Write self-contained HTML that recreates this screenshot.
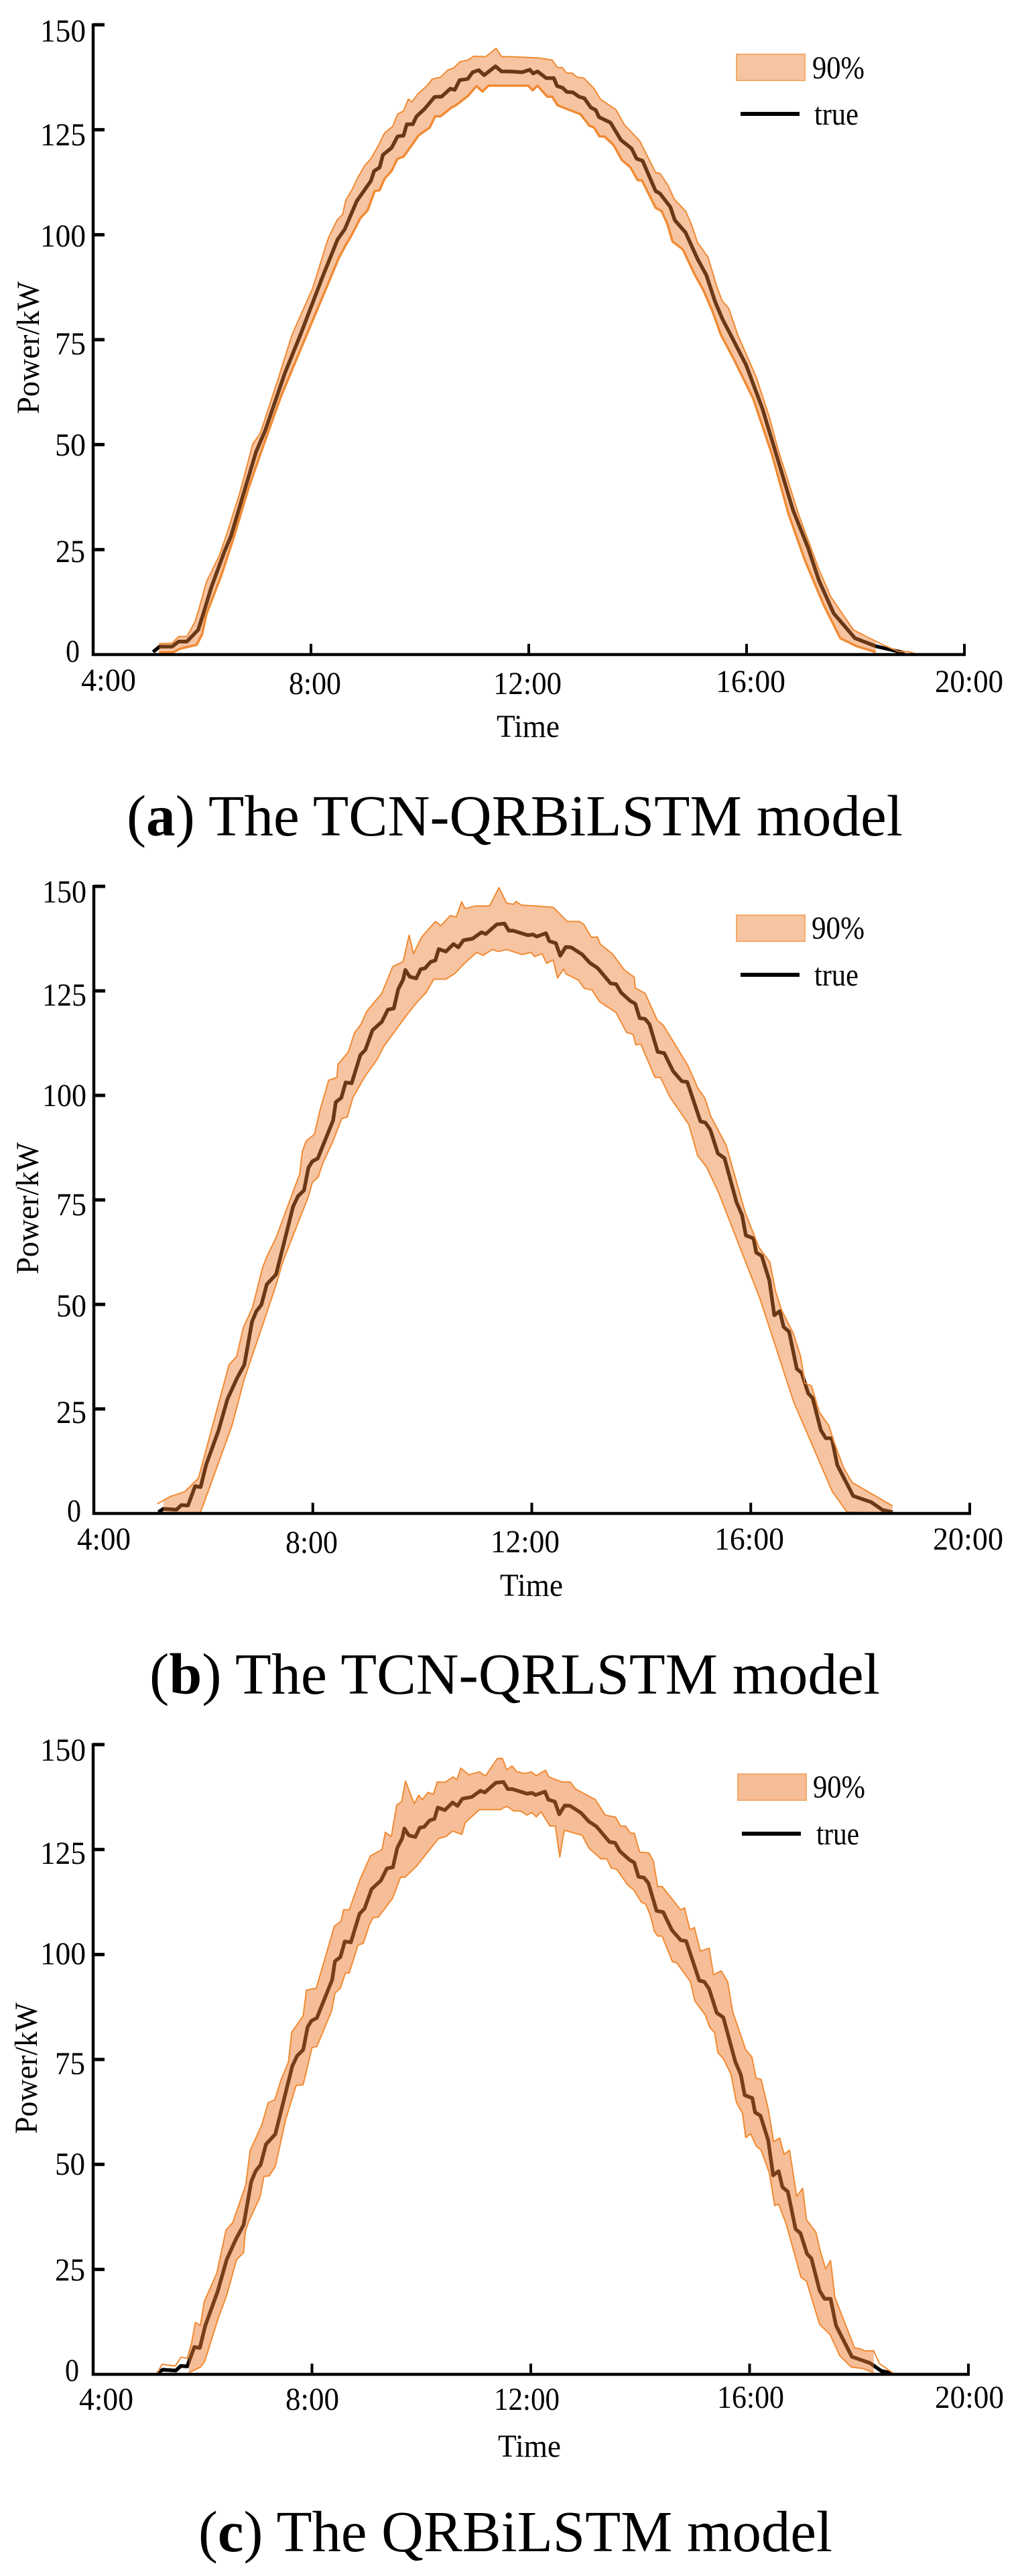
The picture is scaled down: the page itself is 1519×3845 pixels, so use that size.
<!DOCTYPE html>
<html lang="en">
<head>
<meta charset="utf-8">
<title>Prediction intervals of three models</title>
<style>
html,body{margin:0;padding:0;background:#fff;}
svg{display:block;}
text{font-family:"Liberation Serif",serif;fill:#000;font-size:48px;}
text.cap{font-size:87px;}
</style>
</head>
<body>
<svg id="figure" xmlns="http://www.w3.org/2000/svg" width="1519" height="3845" viewBox="0 0 1519 3845">
<rect x="0" y="0" width="1519" height="3845" fill="#fff"/>
<g id="chartA"></g>
<g id="chartB"></g>
<g id="chartC"></g>

<!-- Chart A text -->
<g>
<text x="60" y="62" textLength="68" lengthAdjust="spacingAndGlyphs">150</text>
<text x="60" y="217" textLength="68" lengthAdjust="spacingAndGlyphs">125</text>
<text x="60" y="368" textLength="68" lengthAdjust="spacingAndGlyphs">100</text>
<text x="82" y="529" textLength="46" lengthAdjust="spacingAndGlyphs">75</text>
<text x="82" y="680" textLength="46" lengthAdjust="spacingAndGlyphs">50</text>
<text x="83" y="839" textLength="44" lengthAdjust="spacingAndGlyphs">25</text>
<text x="98" y="988" textLength="21" lengthAdjust="spacingAndGlyphs">0</text>
<text x="121" y="1031" textLength="82" lengthAdjust="spacingAndGlyphs">4:00</text>
<text x="431" y="1036" textLength="78" lengthAdjust="spacingAndGlyphs">8:00</text>
<text x="736" y="1036" textLength="102" lengthAdjust="spacingAndGlyphs">12:00</text>
<text x="1068" y="1033" textLength="104" lengthAdjust="spacingAndGlyphs">16:00</text>
<text x="1395" y="1033" textLength="102" lengthAdjust="spacingAndGlyphs">20:00</text>
<text x="741" y="1100" textLength="94" lengthAdjust="spacingAndGlyphs">Time</text>
<text x="58" y="618" transform="rotate(-90 58 618)" textLength="198" lengthAdjust="spacingAndGlyphs">Power/kW</text>
<text x="1212" y="117" textLength="78" lengthAdjust="spacingAndGlyphs">90%</text>
<text x="1215" y="186" textLength="66" lengthAdjust="spacingAndGlyphs">true</text>
<text class="cap" x="189" y="1247" textLength="1158" lengthAdjust="spacingAndGlyphs">(<tspan font-weight="bold">a</tspan>) The TCN-QRBiLSTM model</text>
</g>

<!-- Chart B text -->
<g>
<text x="63" y="1347" textLength="66" lengthAdjust="spacingAndGlyphs">150</text>
<text x="63" y="1501" textLength="66" lengthAdjust="spacingAndGlyphs">125</text>
<text x="63" y="1651" textLength="66" lengthAdjust="spacingAndGlyphs">100</text>
<text x="84" y="1814" textLength="45" lengthAdjust="spacingAndGlyphs">75</text>
<text x="84" y="1965" textLength="45" lengthAdjust="spacingAndGlyphs">50</text>
<text x="84" y="2124" textLength="45" lengthAdjust="spacingAndGlyphs">25</text>
<text x="100" y="2271" textLength="21" lengthAdjust="spacingAndGlyphs">0</text>
<text x="115" y="2313" textLength="80" lengthAdjust="spacingAndGlyphs">4:00</text>
<text x="426" y="2318" textLength="78" lengthAdjust="spacingAndGlyphs">8:00</text>
<text x="732" y="2317" textLength="103" lengthAdjust="spacingAndGlyphs">12:00</text>
<text x="1066" y="2313" textLength="104" lengthAdjust="spacingAndGlyphs">16:00</text>
<text x="1392" y="2313" textLength="105" lengthAdjust="spacingAndGlyphs">20:00</text>
<text x="746" y="2382" textLength="94" lengthAdjust="spacingAndGlyphs">Time</text>
<text x="57" y="1902" transform="rotate(-90 57 1902)" textLength="197" lengthAdjust="spacingAndGlyphs">Power/kW</text>
<text x="1211" y="1401" textLength="79" lengthAdjust="spacingAndGlyphs">90%</text>
<text x="1215" y="1471" textLength="66" lengthAdjust="spacingAndGlyphs">true</text>
<text class="cap" x="223" y="2528" textLength="1090" lengthAdjust="spacingAndGlyphs">(<tspan font-weight="bold">b</tspan>) The TCN-QRLSTM model</text>
</g>

<!-- Chart C text -->
<g>
<text x="60" y="2628" textLength="68" lengthAdjust="spacingAndGlyphs">150</text>
<text x="60" y="2782" textLength="68" lengthAdjust="spacingAndGlyphs">125</text>
<text x="60" y="2932" textLength="68" lengthAdjust="spacingAndGlyphs">100</text>
<text x="82" y="3096" textLength="45" lengthAdjust="spacingAndGlyphs">75</text>
<text x="82" y="3246" textLength="45" lengthAdjust="spacingAndGlyphs">50</text>
<text x="82" y="3404" textLength="45" lengthAdjust="spacingAndGlyphs">25</text>
<text x="97" y="3554" textLength="21" lengthAdjust="spacingAndGlyphs">0</text>
<text x="118" y="3597" textLength="81" lengthAdjust="spacingAndGlyphs">4:00</text>
<text x="426" y="3597" textLength="80" lengthAdjust="spacingAndGlyphs">8:00</text>
<text x="737" y="3597" textLength="98" lengthAdjust="spacingAndGlyphs">12:00</text>
<text x="1070" y="3594" textLength="100" lengthAdjust="spacingAndGlyphs">16:00</text>
<text x="1395" y="3594" textLength="103" lengthAdjust="spacingAndGlyphs">20:00</text>
<text x="743" y="3667" textLength="94" lengthAdjust="spacingAndGlyphs">Time</text>
<text x="55" y="3185" transform="rotate(-90 55 3185)" textLength="196" lengthAdjust="spacingAndGlyphs">Power/kW</text>
<text x="1213" y="2683" textLength="78" lengthAdjust="spacingAndGlyphs">90%</text>
<text x="1218" y="2753" textLength="64" lengthAdjust="spacingAndGlyphs">true</text>
<text class="cap" x="296" y="3808" textLength="946" lengthAdjust="spacingAndGlyphs">(<tspan font-weight="bold">c</tspan>) The QRBiLSTM model</text>
</g>
</svg>

<script>
// Axis values
const xTickHours = [4, 8, 12, 16, 20];
const yTickKw = [0, 25, 50, 75, 100, 125, 150];

// Chart A: true power
const trueHoursA = [
5.10,5.22,5.45,5.57,5.72,5.93,6.02,6.17,6.41,6.53,
6.75,6.99,7.16,7.52,7.81,8.22,8.49,8.62,8.84,9.10,
9.16,9.26,9.32,9.48,9.59,9.70,9.76,9.87,9.94,10.09,
10.27,10.40,10.56,10.64,10.73,10.88,10.97,11.08,11.18,11.39,
11.50,11.63,11.88,12.02,12.08,12.16,12.32,12.46,12.52,12.62,
12.70,12.81,12.92,13.02,13.14,13.23,13.29,13.50,13.69,13.89,
13.98,14.09,14.33,14.41,14.60,14.68,14.88,15.10,15.26,15.42,
15.56,15.71,15.99,16.29,16.58,16.85,17.13,17.33,17.60,17.99,
18.37,18.90];
const trueKwA = [
0.6,1.9,1.9,3.1,3.1,5.9,9.6,16,24.5,28.2,
37.8,48.2,53.4,67,76.3,90.2,98.9,101.3,108,112.8,
115.2,116,119,120.7,123.4,123.6,126.3,126.3,128.2,130,
132.8,132.9,134.8,134.5,136.8,137.1,138.7,139.2,138,140.1,
138.9,138.9,138.7,139.3,138.4,138.9,137.3,137.3,135.4,135,
134,133.9,132.9,132.5,130.3,129.7,128,126.7,122.6,120.5,
118.1,117.6,110.4,109.8,106.6,103.5,100.5,94.2,90.4,84.1,
79.8,76.1,69,58.6,46.2,34.5,25.4,17.6,9.8,3.9,
2,0.4];

// Chart A: upper bound
const upperHoursA = [
5.21,5.45,5.57,5.72,5.87,5.94,6.08,6.32,6.44,6.69,
6.93,7.07,7.40,7.65,7.83,8.03,8.16,8.27,8.33,8.48,
8.58,8.64,8.75,8.86,8.99,9.10,9.24,9.35,9.50,9.59,
9.70,9.79,9.85,9.96,10.14,10.23,10.38,10.51,10.62,10.74,
10.88,10.99,11.21,11.40,11.50,11.65,12.18,12.43,12.53,12.62,
12.69,12.80,12.89,13.01,13.20,13.32,13.60,13.75,14.04,14.33,
14.41,14.56,14.67,14.88,14.99,15.10,15.29,15.45,15.55,15.67,
15.84,16.18,16.42,16.58,16.96,17.33,17.55,17.96,18.26,18.56,
18.80,18.98,19.12];
const upperKwA = [
2.6,2.7,4.3,4.3,7.8,10.7,17.3,23.7,28.2,38.4,
50.1,52.7,65.8,76.1,81.4,87.2,92.6,97.3,99.5,103.5,
104.8,108.2,110.6,113.6,116.5,118.1,121.3,124.2,125.8,128.7,
129.5,132.3,131.6,133.5,135.6,137.1,137.5,139.2,139.7,141.2,
141.6,142.5,142.4,144.4,142.4,142.4,142.1,141.6,139.8,139.8,
138.5,138.5,137.5,137.3,134.8,132.2,129.8,126.3,122.3,114.8,
114.6,111.7,108.5,105.6,102.4,98.1,94.7,87.8,84.3,82.5,
76.1,66,56.5,48.8,33.2,20.2,13.7,5.9,3.9,2,
0.7,0.7,0.1];

// Chart A: lower bound
const lowerHoursA = [
5.21,5.48,5.60,5.90,6.00,6.08,6.35,6.59,6.85,7.05,
7.45,7.92,8.09,8.33,8.51,8.64,8.73,8.91,9.04,9.17,
9.26,9.35,9.48,9.59,9.70,9.85,9.98,10.18,10.28,10.38,
10.58,10.66,10.88,11.04,11.15,11.26,11.99,12.07,12.16,12.34,
12.43,12.53,12.95,13.11,13.20,13.30,13.39,13.56,13.71,13.87,
14.00,14.08,14.33,14.44,14.55,14.64,14.83,15.04,15.21,15.37,
15.53,15.76,16.12,16.47,16.77,17.07,17.42,17.72,18.02,18.37];
const lowerKwA = [
0.5,0.6,1.4,2.3,4.8,9.6,18.7,28.2,39.5,47,
61.5,76.1,81.4,88.8,94.4,97.6,99.5,104,105.8,110.4,
110.6,113.3,115.2,118.1,118.6,121.3,123.7,125.5,128.2,128.2,
130.3,130.8,133,135.4,134.1,135.5,135.5,134.4,135.5,132.9,
132.9,130.8,128.7,126,125.5,123.4,123.4,121.3,117.8,116,
113,112.9,106.4,105.6,102.4,98.4,96.5,90.7,86.7,81.9,
76.1,70.5,61,47.5,33.5,22.5,11.7,3.9,2,0.6];

// Charts B and C: true power
const trueHoursBC = [
5.18,5.27,5.51,5.60,5.72,5.85,5.95,6.05,6.28,6.44,
6.61,6.75,6.89,6.97,7.06,7.16,7.33,7.64,7.73,7.84,
7.92,7.99,8.09,8.37,8.42,8.52,8.60,8.71,8.87,8.96,
9.09,9.26,9.37,9.48,9.56,9.65,9.69,9.77,9.89,9.97,
10.05,10.15,10.24,10.30,10.43,10.57,10.66,10.75,10.92,11.08,
11.16,11.36,11.50,11.58,11.66,11.93,12.02,12.09,12.26,12.32,
12.44,12.52,12.62,12.72,12.92,13.06,13.20,13.44,13.54,13.63,
13.80,13.89,13.97,14.07,14.15,14.30,14.42,14.58,14.74,14.84,
15.08,15.17,15.26,15.40,15.52,15.74,15.84,15.91,16.05,16.10,
16.20,16.34,16.43,16.53,16.60,16.70,16.84,16.93,17.05,17.13,
17.28,17.37,17.48,17.58,17.87,18.20,18.41,18.59];
const trueKwBC = [
0.3,1.1,0.9,2.0,1.9,6.5,6.3,11.6,19.9,27.3,
32.2,35.6,45.9,48.4,49.9,54.8,57.2,73.4,75.9,77.3,
82.7,84.2,84.9,94.0,98.4,99.4,103.1,102.9,109.7,110.9,
115.6,117.6,120.5,120.8,125.4,127.7,130.0,128.4,128.0,130.2,
130.4,131.9,132.3,135.0,134.4,136.2,135.4,137.1,137.5,139.0,
138.6,140.9,141.1,139.4,139.4,138.3,138.5,138.0,138.8,136.9,
136.4,133.4,135.5,135.4,133.7,131.7,130.5,126.8,126.6,124.6,
122.6,121.9,118.5,118.3,117.0,110.4,110.1,105.8,103.4,103.2,
93.8,93.5,91.8,86.1,85.0,74.4,71.4,66.5,65.8,62.4,
61.6,55.7,47.4,48.4,44.6,43.5,34.6,33.6,28.7,27.6,
19.9,18.0,18.0,11.6,4.2,2.7,0.8,0.3];

// Chart B: upper bound
const upperHoursB = [
5.16,5.39,5.66,5.91,6.47,6.61,6.73,6.90,7.08,7.15,
7.33,7.76,7.81,7.88,8.03,8.13,8.29,8.44,8.46,8.65,
8.76,8.88,8.99,9.26,9.46,9.65,9.76,9.84,9.99,10.24,
10.34,10.51,10.62,10.72,10.78,10.97,11.23,11.40,11.54,11.67,
11.71,11.81,12.08,12.39,12.65,12.87,12.95,13.09,13.20,13.25,
13.47,13.69,13.87,13.89,14.07,14.29,14.40,14.85,15.03,15.16,
15.27,15.55,15.90,16.15,16.35,16.45,16.56,16.78,16.91,16.99,
17.11,17.25,17.43,17.51,17.69,17.85,18.59];
const upperKwB = [
2.3,4.0,5.2,8.4,35.6,37.6,44.4,49.3,58.7,61.1,
66.0,81.2,86.6,89.1,90.7,96.4,103.6,104.3,107.4,110.4,
114.9,117.0,120.2,124.4,130.8,132.0,138.3,133.9,137.9,141.6,
140.6,143.0,142.7,146.3,144.7,145.3,145.3,149.7,146.0,145.7,
146.4,145.5,145.3,145.0,141.6,141.6,140.9,137.8,137.9,136.2,
133.9,130.0,128.3,125.7,124.4,118.0,116.8,107.2,101.8,99.4,
95.0,88.1,71.9,63.6,60.1,53.3,48.7,43.0,37.6,31.2,
30.5,24.3,20.9,17.5,11.1,7.4,1.8];

// Chart B: lower bound
const lowerHoursB = [
5.27,5.94,6.00,6.52,6.75,7.08,7.33,7.45,7.73,7.92,
7.99,8.10,8.18,8.37,8.53,8.63,8.73,8.95,9.18,9.30,
9.75,9.91,10.07,10.21,10.43,10.59,10.78,10.99,11.11,11.28,
11.39,11.54,11.82,11.99,12.05,12.19,12.27,12.39,12.47,12.58,
12.63,12.85,12.96,13.10,13.24,13.54,13.73,13.85,13.90,13.99,
14.25,14.35,14.52,14.87,15.03,15.19,15.41,16.17,16.39,16.78,
17.49,17.76,18.59];
const lowerKwB = [
0.1,0.1,2.1,20.9,32.2,44.9,54.7,60.1,69.5,75.8,
79.1,80.5,83.7,89.1,94.5,94.8,99.4,104.5,108.7,111.8,
119.8,122.4,124.6,127.8,127.8,129.1,131.7,134.2,133.5,134.9,
134.4,134.9,133.7,134.2,133.2,133.9,131.6,132.4,128.1,130.2,
129.0,127.6,125.6,125.2,122.4,119.8,115.1,114.6,112.1,112.3,
104.3,104.3,99.7,93.0,85.6,82.9,76.8,51.3,42.5,26.8,
5.2,0.3,0.1];

// Chart C: upper bound
const upperHoursC = [
5.17,5.26,5.50,5.61,5.72,5.80,5.87,5.96,6.03,6.26,
6.43,6.55,6.79,6.87,7.08,7.20,7.32,7.43,7.57,7.63,
7.84,7.90,8.08,8.41,8.53,8.58,8.68,8.88,9.07,9.28,
9.34,9.45,9.55,9.64,9.71,9.87,9.95,10.02,10.12,10.22,
10.29,10.43,10.58,10.65,10.72,10.87,11.06,11.17,11.39,11.48,
11.56,11.66,11.74,11.88,12.01,12.10,12.27,12.33,12.57,12.72,
12.82,13.18,13.36,13.55,13.64,13.73,13.82,13.89,13.99,14.16,
14.24,14.32,14.40,14.74,14.81,14.91,14.99,15.10,15.26,15.34,
15.48,15.60,15.69,15.93,16.04,16.12,16.21,16.34,16.44,16.55,
16.63,16.73,16.86,16.97,17.04,17.21,17.30,17.39,17.48,17.56,
17.92,18.02,18.10,18.27,18.37,18.63];
const upperKwC = [
0.2,2.4,2.0,4.1,3.8,7.5,12.4,11.6,17.3,24.1,
34.4,36.1,45.1,53.4,59.3,64.7,65.4,70.0,74.4,81.5,
85.4,91.5,92.0,106.8,107.9,110.7,110.6,117.9,123.5,125.0,
129.1,128.1,135.6,136.4,141.3,135.9,137.9,136.9,138.6,138.2,
141.1,141.0,142.3,141.6,144.4,142.8,143.5,142.5,146.7,146.7,
144.0,144.9,143.6,143.1,143.5,142.6,143.9,142.3,141.1,141.1,
139.4,136.9,133.2,132.7,130.6,130.6,128.9,128.9,124.4,124.2,
122.3,116.1,116.2,110.6,111.1,105.9,106.4,100.8,101.5,95.2,
96.1,93.5,86.4,77.3,75.6,70.5,70.3,63.2,55.4,56.3,
52.4,53.4,42.4,44.3,36.8,33.9,29.0,25.1,27.1,18.3,
6.3,6.1,5.6,5.6,2.6,0.2];

// Chart C: lower bound
const lowerHoursC = [
5.75,5.96,6.04,6.30,6.37,6.44,6.62,6.75,6.78,6.84,
7.05,7.12,7.22,7.33,7.52,7.71,7.84,8.00,8.09,8.36,
8.42,8.52,8.61,8.68,8.84,8.94,9.05,9.12,9.21,9.47,
9.62,9.70,9.91,10.31,10.45,10.57,10.74,10.80,11.06,11.44,
11.56,11.69,11.81,11.93,12.02,12.10,12.19,12.35,12.45,12.53,
12.61,12.94,13.06,13.28,13.39,13.47,13.57,13.77,13.88,14.02,
14.10,14.18,14.26,14.32,14.40,14.59,14.67,14.92,15.00,15.19,
15.27,15.36,15.42,15.52,15.66,15.76,15.87,15.93,16.02,16.12,
16.21,16.36,16.46,16.53,16.67,16.94,17.04,17.28,17.47,17.65,
17.86,18.07,18.27];
const lowerKwC = [
0.4,1.7,3.1,13.9,16.3,18.8,27.3,29.0,33.9,36.3,
42.2,47.1,47.3,49.5,60.7,68.8,69.0,77.8,78.1,86.6,
90.8,92.0,95.6,95.6,102.2,102.7,107.1,108.8,108.9,113.3,
118.4,118.4,121.0,127.6,128.1,129.4,128.6,131.4,134.5,134.5,
135.3,134.2,134.2,133.2,133.8,132.8,134.0,130.6,130.6,123.2,
129.6,128.4,125.4,122.8,122.8,120.6,120.3,116.6,115.4,112.5,
112.0,109.6,105.5,104.4,104.4,98.3,98.0,93.5,88.9,85.6,
82.7,81.4,76.6,75.2,71.5,64.7,62.2,56.4,57.3,54.4,
53.4,48.0,40.2,40.5,35.8,23.1,22.2,11.9,9.5,4.4,
1.7,1.4,0.4];

const SVG_NS = 'http://www.w3.org/2000/svg';

function make(parent, tag, attrs) {
  const el = document.createElementNS(SVG_NS, tag);
  for (const k in attrs) el.setAttribute(k, attrs[k]);
  parent.appendChild(el);
  return el;
}

function pointsOf(hours, kw, sx, sy) {
  const n = Math.min(hours.length, kw.length);
  const out = [];
  for (let i = 0; i < n; i++) out.push(sx(hours[i]).toFixed(1) + ',' + sy(kw[i]).toFixed(1));
  return out;
}

function interp(hours, kw, h) {
  if (h <= hours[0]) return kw[0];
  for (let i = 1; i < hours.length; i++) {
    if (h <= hours[i]) {
      const t = (h - hours[i - 1]) / (hours[i] - hours[i - 1]);
      return kw[i - 1] + t * (kw[i] - kw[i - 1]);
    }
  }
  return kw[kw.length - 1];
}

function drawChart(cfg) {
  const g = document.getElementById(cfg.id);
  const sx = h => cfg.left + (h - 4) * (cfg.right - cfg.left) / 16;
  const sy = k => cfg.base - k * (cfg.base - cfg.top) / 150;

  // true line under the translucent band
  const trueLine = make(g, 'polyline', {points: pointsOf(cfg.trueH, cfg.trueK, sx, sy).join(' '), fill: 'none', stroke: '#000', 'stroke-width': 5.5, 'stroke-linejoin': 'round'});
  
  

  // band: spans only the lower-bound domain
  const loStart = cfg.lowH[0];
  const loEnd = cfg.lowH[cfg.lowH.length - 1];
  const bandH = [loStart];
  const bandK = [interp(cfg.upH, cfg.upK, loStart)];
  cfg.upH.forEach((h, i) => {
    if (h > loStart && h < loEnd) { bandH.push(h); bandK.push(cfg.upK[i]); }
  });
  bandH.push(loEnd);
  bandK.push(interp(cfg.upH, cfg.upK, loEnd));
  const bandPts = pointsOf(bandH, bandK, sx, sy).concat(pointsOf(cfg.lowH, cfg.lowK, sx, sy).reverse());
  const band = make(g, 'polygon', {points: bandPts.join(' '), fill: '#ED7D31', 'fill-opacity': cfg.alpha, stroke: 'none'});
  
  

  const upLine = make(g, 'polyline', {points: pointsOf(cfg.upH, cfg.upK, sx, sy).join(' '), fill: 'none', stroke: '#F08A33', 'stroke-width': cfg.upW, 'stroke-linejoin': 'round'});
  
  

  const lowLine = make(g, 'polyline', {points: pointsOf(cfg.lowH, cfg.lowK, sx, sy).join(' '), fill: 'none', stroke: '#F08A33', 'stroke-width': cfg.lowW, 'stroke-linejoin': 'round'});
  
  

  // axes
  const yAxis = make(g, 'line', {x1: cfg.left, x2: cfg.left, y1: cfg.top - 2, y2: cfg.base + 2, stroke: '#000', 'stroke-width': 4.5});
  
  
  const xAxis = make(g, 'line', {x1: cfg.left - 2, x2: cfg.right + 2, y1: cfg.base, y2: cfg.base, stroke: '#000', 'stroke-width': 4.5});
  
  

  xTickHours.slice(1).forEach(h => {
    const t = make(g, 'line', {x1: sx(h), x2: sx(h), y1: cfg.base - 16, y2: cfg.base, stroke: '#000', 'stroke-width': 4});
    
    
  });
  yTickKw.slice(1).forEach(k => {
    const t = make(g, 'line', {x1: cfg.left, x2: cfg.left + 17, y1: sy(k), y2: sy(k), stroke: '#000', 'stroke-width': 5});
    
    
  });

  // legend
  const patch = make(g, 'rect', {x: cfg.legX, y: cfg.legY, width: 102, height: 39, fill: '#ED7D31', 'fill-opacity': cfg.alpha, stroke: '#F4A96A', 'stroke-width': 2});
  
  
  const swatch = make(g, 'line', {x1: cfg.legX + 6, x2: cfg.legX + 94, y1: cfg.legLineY, y2: cfg.legLineY, stroke: '#000', 'stroke-width': 6});
  
  
}

drawChart({id: 'chartA', left: 139, right: 1439, top: 37, base: 977, alpha: 0.45, upW: 2, lowW: 3.5,
  legX: 1099, legY: 81, legLineY: 170,
  trueH: trueHoursA, trueK: trueKwA, upH: upperHoursA, upK: upperKwA, lowH: lowerHoursA, lowK: lowerKwA});
drawChart({id: 'chartB', left: 140, right: 1447, top: 1323, base: 2259, alpha: 0.45, upW: 2, lowW: 2,
  legX: 1099, legY: 1366, legLineY: 1455,
  trueH: trueHoursBC, trueK: trueKwBC, upH: upperHoursB, upK: upperKwB, lowH: lowerHoursB, lowK: lowerKwB});
drawChart({id: 'chartC', left: 139, right: 1445, top: 2604, base: 3544, alpha: 0.5, upW: 2, lowW: 2,
  legX: 1101, legY: 2648, legLineY: 2737,
  trueH: trueHoursBC, trueK: trueKwBC, upH: upperHoursC, upK: upperKwC, lowH: lowerHoursC, lowK: lowerKwC});
</script>
</body>
</html>
